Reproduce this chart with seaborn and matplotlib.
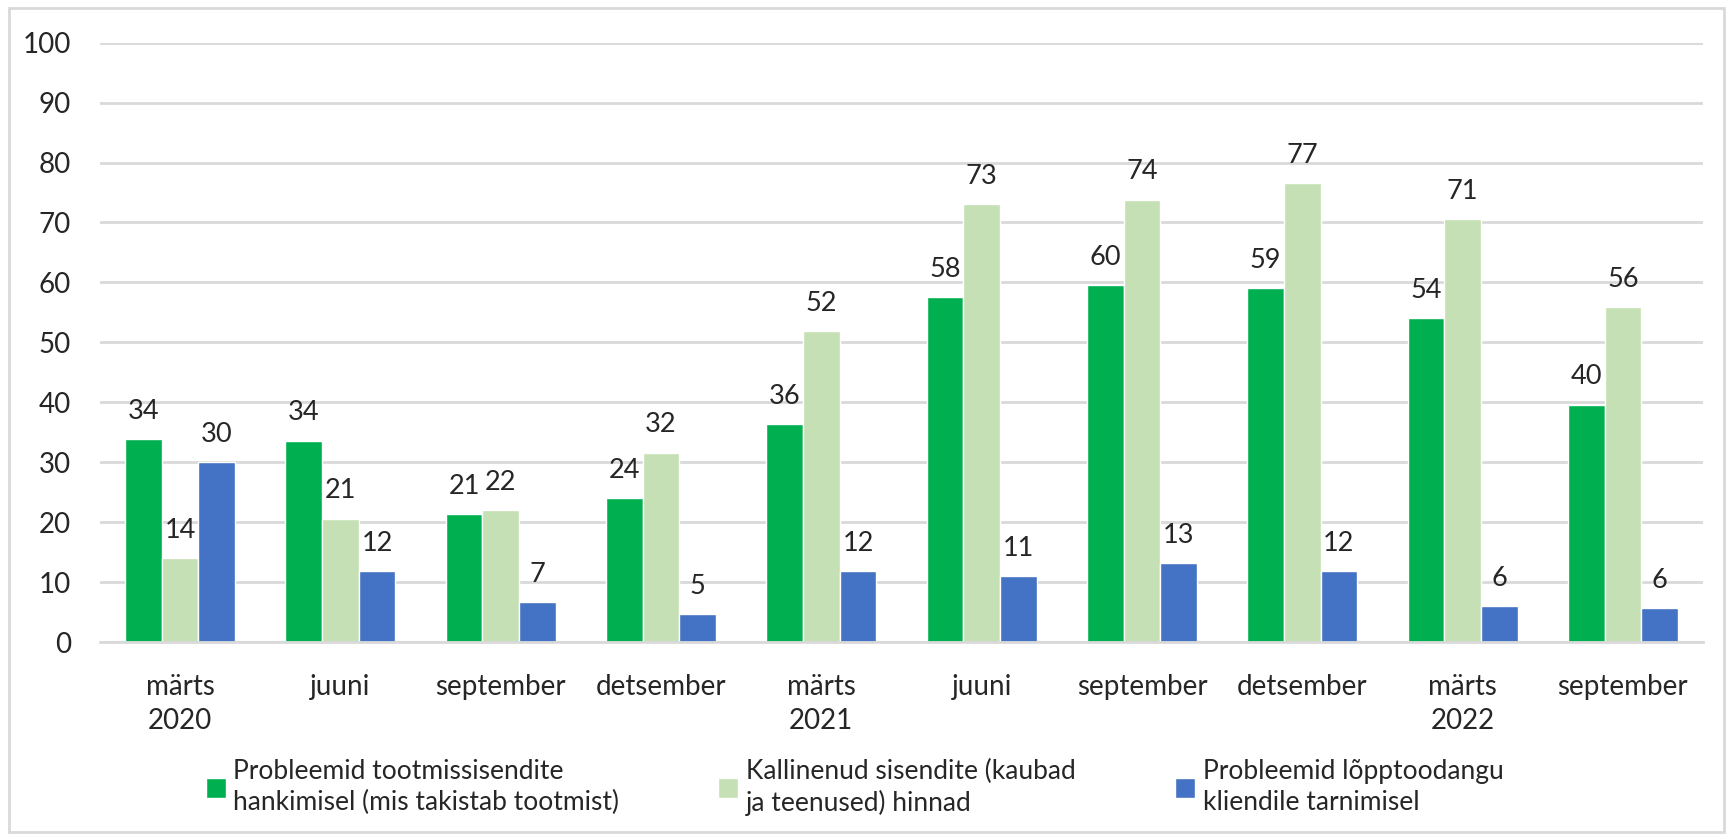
import numpy as np
import pandas as pd
import seaborn as sns
import matplotlib.pyplot as plt
from matplotlib.patches import Rectangle

# survey periods and their axis labels
periods = ["2020-03", "2020-06", "2020-09", "2020-12", "2021-03",
           "2021-06", "2021-09", "2021-12", "2022-03", "2022-09"]
tick_labels = ["märts\n2020", "juuni", "september", "detsember", "märts\n2021",
               "juuni", "september", "detsember", "märts\n2022", "september"]

series_names = [
    "Probleemid tootmissisendite\nhankimisel (mis takistab tootmist)",
    "Kallinenud sisendite (kaubad\nja teenused) hinnad",
    "Probleemid lõpptoodangu\nkliendile tarnimisel",
]
supply_problems = [33.9, 33.6, 21.3, 24.0, 36.3, 57.6, 59.6, 59.1, 54.0, 39.6]
input_prices = [14.0, 20.6, 22.0, 31.6, 51.9, 73.1, 73.8, 76.6, 70.6, 55.9]
delivery_problems = [30.0, 11.8, 6.6, 4.6, 11.8, 11.0, 13.2, 11.8, 6.0, 5.6]

colors = ["#00B050", "#C5E0B4", "#4472C4"]

df = pd.concat([
    pd.DataFrame({"period": periods, "series": name, "value": vals})
    for name, vals in zip(series_names, [supply_problems, input_prices, delivery_problems])
])

sns.set_style("white")
plt.rcParams["font.family"] = ["Lato", "DejaVu Sans"]

fig = plt.figure(figsize=(17.33, 8.36), dpi=100)
ax = fig.add_axes([0.0577, 0.232, 0.925, 0.717])

sns.barplot(data=df, x="period", y="value", hue="series", order=periods,
            hue_order=series_names, palette=colors, width=0.686,
            saturation=1, ax=ax, legend=True)

for cont in ax.containers:
    ax.bar_label(cont, fmt="%.0f", padding=11, fontsize=19.5, color="#262626")

ax.set_ylim(0, 100)
ax.set_yticks(np.arange(0, 101, 10))
ax.set_xlim(-0.5, len(periods) - 0.5)
ax.yaxis.grid(True, color="#D9D9D9", linewidth=2)
ax.set_axisbelow(True)
ax.set_xlabel("")
ax.set_ylabel("")
for side in ["top", "right", "left"]:
    ax.spines[side].set_visible(False)
ax.spines["bottom"].set_color("#D9D9D9")
ax.spines["bottom"].set_linewidth(2)

# category labels at centers, separator ticks between groups
ax.set_xticks(np.arange(len(periods)))
ax.set_xticklabels(tick_labels, fontsize=20, color="#262626", linespacing=1.4)
ax.set_xticks(np.arange(-0.5, len(periods)), minor=True)
ax.tick_params(axis="x", which="major", length=0, pad=23)
ax.tick_params(axis="x", which="minor", length=9, width=2, color="#D9D9D9")
ax.tick_params(axis="y", length=0, labelsize=20, labelcolor="#262626", pad=21)

leg = ax.legend(loc="upper left", bbox_to_anchor=(0.105, 0.121),
                bbox_transform=fig.transFigure, ncol=3,
                frameon=False, fontsize=19, handlelength=0.75, handleheight=0.75,
                handletextpad=0.3, columnspacing=3.75, labelspacing=0)
for t in leg.get_texts():
    t.set_color("#262626")
    t.set_linespacing(1.3)

fig.patches.append(Rectangle((0.005, 0.005), 0.99, 0.985, transform=fig.transFigure,
                             fill=False, edgecolor="#D9D9D9", linewidth=2))

fig.savefig("out.png", dpi=100)
